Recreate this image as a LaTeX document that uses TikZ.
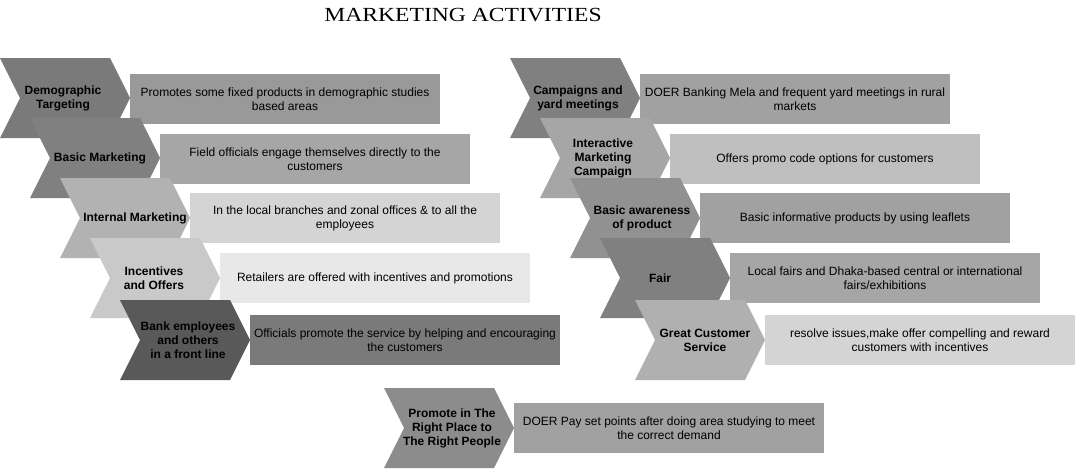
\documentclass[tikz,border=0pt]{standalone}
\usepackage{fontspec}
\setmainfont{Liberation Sans}
\newfontfamily\titlefont{Liberation Serif}
\tikzset{
  ctext/.style={align=center,inner sep=0pt,font=\fontsize{12}{14}\selectfont\bfseries},
  rtext/.style={align=center,inner sep=0pt,font=\fontsize{12}{14}\selectfont},
}
\newcommand\mychev[6]{%
  \fill[#3] (#1,#2) -- ++(110,0) -- ++(20,40) -- ++(-20,40) -- ++(-110,0) -- ++(20,-40) -- cycle;
  \node[ctext] (#4) at (#1+#6,#2+40) {#5};}
\newcommand\myrect[5]{%
  \fill[#3] (#1+130,#2+16) rectangle ++(310,50);
  \node[rtext] (#4) at (#1+285,#2+41) {#5};}
\begin{document}
\begin{tikzpicture}[x=1pt,y=-1pt]
\useasboundingbox[fill=white] (0,0) rectangle (1076,469);
\node[font=\titlefont\fontsize{20}{24}\selectfont,inner sep=0pt,xscale=1.18,transform shape] (title) at (463,15) {MARKETING ACTIVITIES};
% left column
\mychev{0}{58}{black!52}{c1}{Demographic\\Targeting}{63}
\myrect{0}{58}{black!40}{r1}{Promotes some fixed products in demographic studies\\based areas}
\mychev{30}{118}{black!50}{c2}{Basic Marketing}{70}
\myrect{30}{118}{black!35}{r2}{Field officials engage themselves directly to the\\customers}
\mychev{60}{178}{black!30}{c3}{Internal Marketing}{75}
\myrect{60}{177}{black!17}{r3}{In the local branches and zonal offices \& to all the\\employees}
\mychev{90}{238}{black!21}{c4}{Incentives\\and Offers}{64}
\myrect{90}{237}{black!9}{r4}{Retailers are offered with incentives and promotions}
\mychev{120}{300}{black!65}{c5}{Bank employees\\and others\\in a front line}{68}
\myrect{120}{299}{black!52}{r5}{Officials promote the service by helping and encouraging\\the customers}
% right column
\mychev{510}{58}{black!50}{d1}{Campaigns and\\yard meetings}{68}
\myrect{510}{58}{black!37}{s1}{DOER Banking Mela and frequent yard meetings in rural\\markets}
\mychev{540}{118}{black!35}{d2}{Interactive\\Marketing\\Campaign}{63}
\myrect{540}{118}{black!25}{s2}{Offers promo code options for customers}
\mychev{570}{178}{black!43}{d3}{Basic awareness\\of product}{72}
\myrect{570}{177}{black!37}{s3}{Basic informative products by using leaflets}
\mychev{600}{238}{black!50}{d4}{Fair}{60}
\myrect{600}{237}{black!35}{s4}{Local fairs and Dhaka-based central or international\\fairs/exhibitions}
\mychev{635}{300}{black!31}{d5}{Great Customer\\Service}{70}
\myrect{635}{299}{black!17}{s5}{resolve issues,make offer compelling and reward\\customers with incentives}
% bottom
\mychev{384}{388}{black!45}{e1}{Promote in The\\Right Place to\\The Right People}{68}
\myrect{384}{387}{black!37}{f1}{DOER Pay set points after doing area studying to meet\\the correct demand}
\end{tikzpicture}
\end{document}
